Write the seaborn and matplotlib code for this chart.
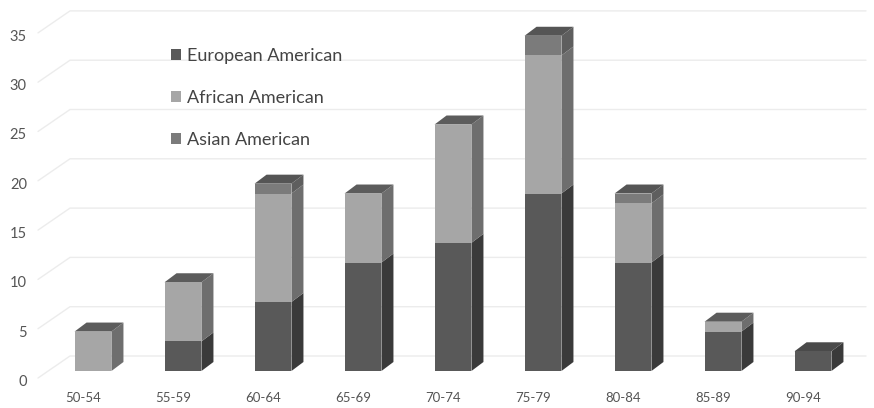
import numpy as np
import pandas as pd
import matplotlib
matplotlib.use("Agg")
import matplotlib.pyplot as plt
import matplotlib.transforms as mtransforms
from matplotlib.patches import Polygon, Patch
import seaborn as sns

categories = ["50-54", "55-59", "60-64", "65-69", "70-74", "75-79", "80-84", "85-89", "90-94"]
european = [0, 3, 7, 11, 13, 18, 11, 4, 2]
african = [4, 6, 11, 7, 12, 14, 6, 1, 0]
asian = [0, 0, 1, 0, 0, 2, 1, 0, 0]
yticks = [0, 5, 10, 15, 20, 25, 30, 35]
series_names = ["European American", "African American", "Asian American"]

front_colors = {"European American": "#595959", "African American": "#a6a6a6", "Asian American": "#7b7b7b"}
side_colors = {"European American": "#3a3a3a", "African American": "#6e6e6e", "Asian American": "#5e5e5e"}
top_colors = {"European American": "#4a4a4a", "African American": "#5c5c5c", "Asian American": "#555555"}

sns.set_theme(style="white")
plt.rcParams["font.family"] = ["Lato", "DejaVu Sans"]

W, H = 874, 408
fig = plt.figure(figsize=(W / 100, H / 100), dpi=100)
px_left, px_right, px_top, px_bottom = 38, 866, 5, 385
ax = fig.add_axes([px_left / W, (H - px_bottom) / H, (px_right - px_left) / W, (px_bottom - px_top) / H])

bar0_px, step_px, base_px, unit_px = 93, 90, 371, 9.86
xlim = ((px_left - bar0_px) / step_px, (px_right - bar0_px) / step_px)
ylim = (-(px_bottom - base_px) / unit_px, (base_px - px_top) / unit_px)

eu = np.array(european, float)
af = np.array(african, float)
asn = np.array(asian, float)
cum = {
    "European American": eu,
    "African American": eu + af,
    "Asian American": eu + af + asn,
}
lower = {
    "European American": np.zeros_like(eu),
    "African American": eu,
    "Asian American": eu + af,
}

front_dy = -7 / unit_px
back_dy = 15 / unit_px
back_x = (70 - bar0_px) / step_px
for v in yticks:
    ax.plot([xlim[0], back_x, xlim[1]], [v + front_dy, v + back_dy, v + back_dy],
            color="#ececec", lw=1.0, zorder=0, clip_on=False)

layer_patches = {}
for name in ["Asian American", "African American", "European American"]:
    n0 = len(ax.patches)
    df = pd.DataFrame({"age": categories, "value": cum[name]})
    sns.barplot(data=df, x="age", y="value", order=categories, color=front_colors[name],
                saturation=1, width=0.41, ax=ax, linewidth=0, zorder=3)
    layer_patches[name] = ax.patches[n0:]

dx = 12 / step_px
dy = 9 / unit_px
ref = layer_patches["Asian American"]
for i, p in enumerate(ref):
    x0 = p.get_x()
    x1 = x0 + p.get_width()
    total = cum["Asian American"][i]
    top_name = None
    for name in series_names:
        lo, hi = lower[name][i], cum[name][i]
        if hi - lo <= 0:
            continue
        top_name = name
        side = Polygon([[x1, lo], [x1 + dx, lo + dy], [x1 + dx, hi + dy], [x1, hi]],
                       closed=True, facecolor=side_colors[name], edgecolor="none", zorder=2)
        ax.add_patch(side)
    if top_name is not None:
        top = Polygon([[x0, total], [x1, total], [x1 + dx, total + dy], [x0 + dx, total + dy]],
                      closed=True, facecolor=top_colors[top_name], edgecolor="none", zorder=2)
        ax.add_patch(top)

ax.set_xlim(*xlim)
ax.set_ylim(*ylim)
for s in ax.spines.values():
    s.set_visible(False)
ax.set_xlabel("")
ax.set_ylabel("")

ax.set_yticks([v + front_dy - 0.25 for v in yticks])
ax.set_yticklabels([str(v) for v in yticks], fontsize=10.5, color="#555555")
ax.tick_params(axis="y", length=0, pad=8)
ax.tick_params(axis="x", length=0, pad=5)
ax.set_xticks(range(len(categories)))
ax.set_xticklabels(categories, fontsize=9.5, color="#555555")
offset = mtransforms.ScaledTranslation(-10 / 100, 0, fig.dpi_scale_trans)
for lab in ax.get_xticklabels():
    lab.set_transform(lab.get_transform() + offset)

handles = [Patch(facecolor=front_colors[n], edgecolor="none") for n in series_names]
leg = ax.legend(handles, series_names, loc="upper left",
                bbox_to_anchor=(155 / W, (H - 32) / H), bbox_transform=fig.transFigure,
                frameon=False, fontsize=13, labelspacing=1.42, handlelength=0.55,
                handleheight=0.55, handletextpad=0.3, labelcolor="#444444")

fig.savefig("out.png", dpi=100)
